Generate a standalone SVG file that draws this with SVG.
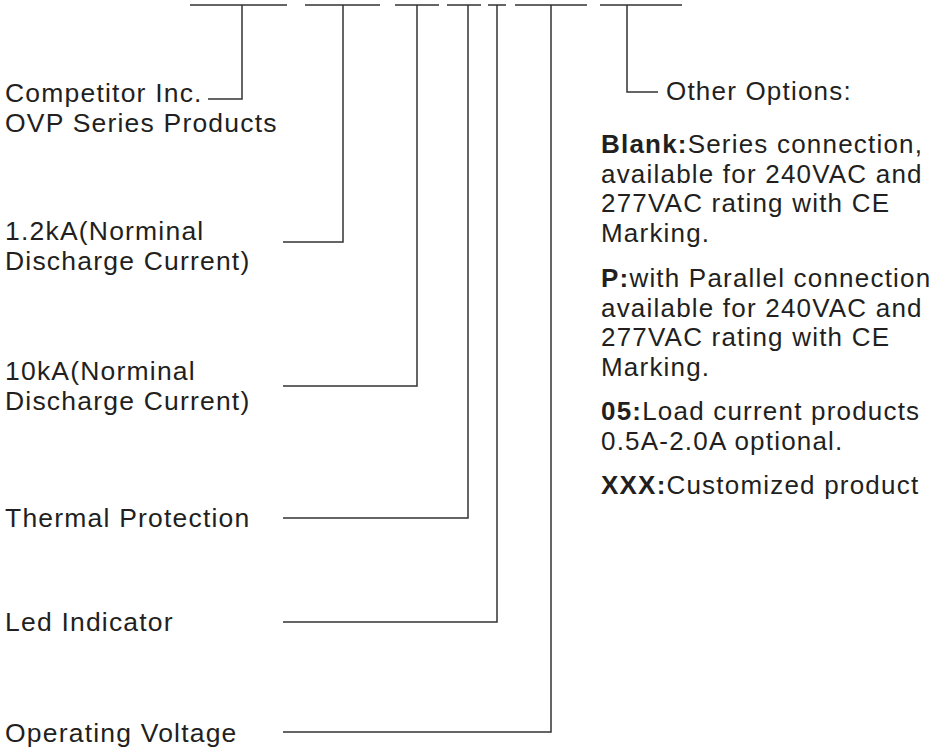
<svg xmlns="http://www.w3.org/2000/svg" width="950" height="749" viewBox="0 0 950 749">
<style>
text{font-family:"Liberation Sans",Arial,sans-serif;font-size:26px;letter-spacing:1.2px;fill:#231f20}
.l text{font-size:26.5px}
.b{font-weight:bold}
.ln{fill:none;stroke:#333;stroke-width:1.5}
</style>
<rect width="950" height="749" fill="#fff"/>
<g id="connectors" class="ln">
<path d="M190 5H287M242 5V99H208"/>
<path d="M305 5H380M343 5V242H283"/>
<path d="M395 5H439M417 5V386H283"/>
<path d="M447 5H481M468 5V518H283"/>
<path d="M488 5H506M497 5V622H283"/>
<path d="M515 5H587M551 5V732H283"/>
<path d="M600 5H682M627 5V92H658"/>
</g>
<g class="l">
<g id="node-competitor"><text x="5" y="102">Competitor Inc.</text><text x="5" y="131.5">OVP Series Products</text></g>
<g id="node-12ka"><text x="5" y="240">1.2kA(Norminal</text><text x="5" y="270">Discharge Current)</text></g>
<g id="node-10ka"><text x="5" y="380">10kA(Norminal</text><text x="5" y="410">Discharge Current)</text></g>
<g id="node-thermal"><text x="5" y="527">Thermal Protection</text></g>
<g id="node-led"><text x="5" y="631">Led Indicator</text></g>
<g id="node-voltage"><text x="5" y="742">Operating Voltage</text></g>
</g>
<g id="node-options">
<text x="666" y="100">Other Options:</text>
<text x="601" y="153"><tspan class="b">Blank:</tspan>Series connection,</text>
<text x="601" y="182.5">available for 240VAC and</text>
<text x="601" y="212">277VAC rating with CE</text>
<text x="601" y="241.5">Marking.</text>
<text x="601" y="287"><tspan class="b">P:</tspan>with Parallel connection</text>
<text x="601" y="316.5">available for 240VAC and</text>
<text x="601" y="346">277VAC rating with CE</text>
<text x="601" y="375.5">Marking.</text>
<text x="601" y="420"><tspan class="b">05:</tspan>Load current products</text>
<text x="601" y="449.5">0.5A-2.0A optional.</text>
<text x="601" y="494"><tspan class="b">XXX:</tspan>Customized product</text>
</g>
</svg>
